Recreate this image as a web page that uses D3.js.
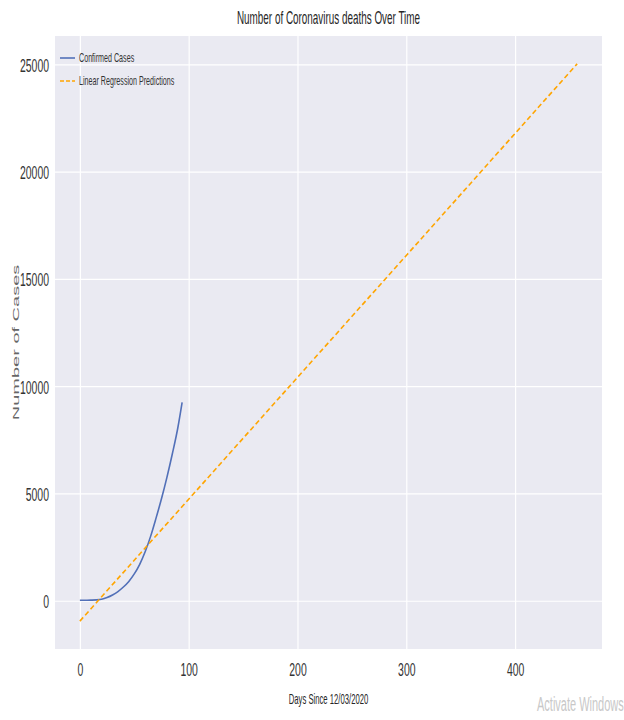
<!DOCTYPE html>
<html><head><meta charset="utf-8">
<script src="https://cdn.jsdelivr.net/npm/d3@7"></script>
<style>body{margin:0;background:#fff;} text{font-family:"Liberation Sans",Arial,sans-serif;}</style>
</head><body><svg id="c" width="624" height="720"></svg>
<script>
// Data
const confirmedDays = [0,5,10,15,20,25,30,35,40,45,50,55,60,65,70,75,80,85,90,94];
const confirmedDeaths = [20,25,30,40,70,150,270,430,640,900,1250,1700,2280,3000,3850,4750,5750,6850,8050,9250];
const predDays = [0,100,200,300,400,457];
const predValues = [-950,4730,10410,16090,21780,25020];
const xTicks = [0,100,200,300,400];
const yTicks = [0,5000,10000,15000,20000,25000];
const title = "Number of Coronavirus deaths Over Time";
const xLabel = "Days Since 12/03/2020";
const yLabel = "Number of Cases";
const legendLabels = ["Confirmed Cases","Linear Regression Predictions"];

const SQ = 0.55; // horizontal squeeze of the original picture
const svg = d3.select("#c");
const L=55,R=602,T=36,B=649;

const allX = confirmedDays.concat(predDays), allY = confirmedDeaths.concat(predValues);
const xmin=d3.min(allX), xmax=d3.max(allX), ymin=d3.min(allY), ymax=d3.max(allY);
const px=(xmax-xmin)*0.05, py=(ymax-ymin)*0.05;
const x=d3.scaleLinear().domain([xmin-px,xmax+px]).range([L,R]);
const y=d3.scaleLinear().domain([ymin-py,ymax+py]).range([B,T]);

svg.append("rect").attr("x",L).attr("y",T).attr("width",R-L).attr("height",B-T).attr("fill","#EAEAF2");

const gx=svg.append("g").attr("transform",`translate(0,${B})`)
  .call(d3.axisBottom(x).tickValues(xTicks).tickSize(-(B-T)).tickFormat(d3.format("d")));
const gy=svg.append("g").attr("transform",`translate(${L},0)`)
  .call(d3.axisLeft(y).tickValues(yTicks).tickSize(-(R-L)).tickFormat(d3.format("d")));
[gx,gy].forEach(g=>{
  g.select(".domain").remove();
  g.selectAll(".tick line").attr("stroke","#fff").attr("stroke-width",1.2);
});
gx.selectAll(".tick text").attr("y",null).attr("dy",null)
  .attr("transform",`translate(0,27) scale(${SQ},1)`)
  .attr("font-size",19).attr("fill","#333").attr("text-anchor","middle");
gy.selectAll(".tick text").attr("x",null).attr("dy",null)
  .attr("transform",`translate(-6,7) scale(${SQ},1)`)
  .attr("font-size",19).attr("fill","#333").attr("text-anchor","end");

const line=d3.line().x(d=>x(d[0])).y(d=>y(d[1]));
svg.append("path").datum(confirmedDays.map((d,i)=>[d,confirmedDeaths[i]]))
  .attr("d",line.curve(d3.curveMonotoneX)).attr("fill","none").attr("stroke","#5270B8").attr("stroke-width",1.6);
svg.append("path").datum(predDays.map((d,i)=>[d,predValues[i]]))
  .attr("d",d3.line().x(d=>x(d[0])).y(d=>y(d[1]))).attr("fill","none").attr("stroke","#FFA500")
  .attr("stroke-width",1.6).attr("stroke-dasharray","5,3");

// title & labels
svg.append("text").attr("transform",`translate(${(L+R)/2},24) scale(${SQ},1)`)
  .attr("text-anchor","middle").attr("font-size",18).attr("fill","#262626").text(title);
svg.append("text").attr("transform",`translate(${(L+R)/2},704) scale(${SQ},1)`)
  .attr("text-anchor","middle").attr("font-size",14).attr("fill","#262626").text(xLabel);
svg.append("text").attr("transform",`translate(19,${(T+B)/2}) scale(0.45,1) rotate(-90)`)
  .attr("text-anchor","middle").attr("font-size",20).attr("fill","#666").text(yLabel);

// legend
const leg=svg.append("g");
const styles=[{c:"#5270B8",d:null},{c:"#FFA500",d:"4,2"}];
legendLabels.forEach((lab,i)=>{
  const yy=58+i*23;
  leg.append("line").attr("x1",60).attr("x2",75).attr("y1",yy).attr("y2",yy)
    .attr("stroke",styles[i].c).attr("stroke-width",1.6).attr("stroke-dasharray",styles[i].d);
  leg.append("text").attr("transform",`translate(79,${yy+4}) scale(${SQ},1)`)
    .attr("font-size",13).attr("fill","#333").text(lab);
});

svg.append("text").attr("transform",`translate(537,711) scale(${SQ},1)`)
  .attr("font-size",20).attr("fill","#c8c8c8").text("Activate Windows");
</script></body></html>
